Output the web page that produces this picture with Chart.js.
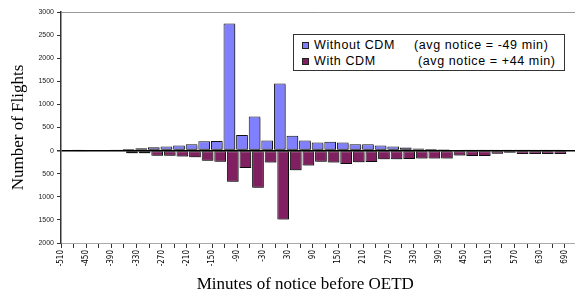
<!DOCTYPE html>
<html>
<head>
<meta charset="utf-8">
<script src="https://cdn.jsdelivr.net/npm/chart.js@4/dist/chart.umd.min.js"></script>
<style>
  body { margin: 0; background: #fff; }
  #wrap { position: relative; width: 575px; height: 298px; }
  .legend { position: absolute; left: 293px; top: 34px; width: 270px; height: 35px;
            border: 1px solid #333; background: #fff; color: #000;
            font: 12.5px "Liberation Sans", Arial, sans-serif; letter-spacing: 0.6px; }
  .row { position: absolute; left: 0; right: 0; height: 16px; line-height: 16px; white-space: nowrap; }
  .mark { position: absolute; left: 8px; top: 5px; width: 5px; height: 5px; border: 1px solid #222; }
  .name { position: absolute; left: 20px; }
  .avg { position: absolute; }
</style>
</head>
<body>
<div id="wrap">
  <canvas id="myChart" width="575" height="298"></canvas>
  <div class="legend">
    <div class="row" style="top:2px">
      <span class="mark" style="background:#8080ff"></span>
      <span class="name">Without CDM</span>
      <span class="avg" style="left:120px">(avg notice = -49 min)</span>
    </div>
    <div class="row" style="top:18px">
      <span class="mark" style="background:#802060"></span>
      <span class="name">With CDM</span>
      <span class="avg" style="left:124px">(avg notice = +44 min)</span>
    </div>
  </div>
</div>
<script>
// start of each 30-minute bin
let binStart = [-510, -480, -450, -420, -390, -360, -330, -300, -270, -240,
                -210, -180, -150, -120, -90, -60, -30, 0, 30, 60,
                90, 120, 150, 180, 210, 240, 270, 300, 330, 360,
                390, 420, 450, 480, 510, 540, 570, 600, 630, 660];
let withoutCdm = [0, 5, 20, 20, 10, 35, 50, 75, 90, 110,
                  140, 200, 210, 2750, 340, 740, 220, 1450, 320, 220,
                  175, 190, 175, 140, 140, 110, 88, 66, 45, 35,
                  30, 20, 10, 10, 5, 5, 5, 10, 10, 25];
// drawn below the axis
let withCdm = [0, -5, -15, -15, -15, -60, -60, -110, -110, -130,
               -145, -220, -240, -675, -375, -805, -255, -1490, -425, -320,
               -240, -255, -290, -250, -245, -185, -188, -183, -170, -170,
               -170, -108, -117, -117, -70, -45, -73, -73, -73, -73];
let tickLabels = [-510, -450, -390, -330, -270, -210, -150, -90, -30, 30,
                  90, 150, 210, 270, 330, 390, 450, 510, 570, 630, 690];

let BIN = 30;
let XMIN = -510, XMAX = 714;
let SHIFT = 4; // the two series sit slightly apart inside a bin

function points(vals){
    return binStart.map((m, i) => ({x: m + BIN / 2, y: vals[i]}));
}

// excel style drop shadow on the bars
let shadow = {
    id: 'shadow',
    beforeDatasetsDraw(c){
        let g = c.ctx;
        g.save();
        g.shadowColor = 'rgba(0,0,0,0.35)';
        g.shadowOffsetX = 1.5;
        g.shadowOffsetY = 1.5;
        g.shadowBlur = 0;
    },
    afterDatasetsDraw(c){ c.ctx.restore(); }
};

let sans = 'Liberation Sans, Arial, sans-serif';
let narrow = 'Liberation Sans Narrow, DejaVu Sans Condensed, Liberation Sans, sans-serif';
let serif = 'Liberation Serif, Times New Roman, serif';

let ctx = document.getElementById('myChart').getContext('2d');
let chart = new Chart(ctx, {
    type: 'bar',
    data: {
        datasets: [
        {
            label: 'Without CDM',
            data: points(withoutCdm),
            xAxisID: 'xBlue',
            backgroundColor: '#8080ff',
            borderColor: '#111',
            borderWidth: 1,
            borderSkipped: false,
            grouped: false,
            categoryPercentage: 1,
            barPercentage: 0.93
        },
        {
            label: 'With CDM',
            data: points(withCdm),
            xAxisID: 'xPurple',
            backgroundColor: '#802060',
            borderColor: '#111',
            borderWidth: 1,
            borderSkipped: false,
            grouped: false,
            categoryPercentage: 1,
            barPercentage: 0.93
        }]
    },
    options: {
        responsive: false,
        animation: false,
        layout: { padding: { top: 12, right: 0, bottom: 0, left: 0 } },
        plugins: { legend: { display: false }, tooltip: { enabled: false } },
        scales: {
            x: {
                type: 'linear', position: 'bottom', min: XMIN, max: XMAX, offset: false,
                ticks: {
                    stepSize: BIN, autoSkip: false, includeBounds: false,
                    minRotation: 90, maxRotation: 90, padding: 2,
                    color: '#000', font: { family: narrow, size: 8 },
                    callback: v => tickLabels.includes(v) ? String(v) : ''
                },
                grid: { offset: false, drawOnChartArea: false, tickLength: 5, tickColor: '#333', tickWidth: 1 },
                border: { color: '#aaa', width: 1 },
                title: {
                    display: true, text: 'Minutes of notice before OETD      ', color: '#000',
                    font: { family: serif, size: 17 }, padding: { top: 0, bottom: 3 }
                },
                afterFit: s => { s.height = 55; s.paddingLeft = 0; s.paddingRight = 0; }
            },
            xBlue: { type: 'linear', display: false, offset: false, min: XMIN + SHIFT, max: XMAX + SHIFT },
            xPurple: { type: 'linear', display: false, offset: false, min: XMIN - SHIFT, max: XMAX - SHIFT },
            y: {
                min: -2000, max: 3000,
                ticks: {
                    stepSize: 500, padding: 3, color: '#222',
                    font: { family: sans, size: 7 },
                    callback: v => String(Math.abs(v))
                },
                grid: {
                    color: c => c.tick.value === 0 ? '#000' : (c.tick.value === 3000 ? '#999' : 'rgba(0,0,0,0)'),
                    lineWidth: c => c.tick.value === 0 ? 1.5 : 1,
                    tickColor: '#333', tickLength: 4
                },
                border: { color: '#333', width: 1.5 },
                title: {
                    display: true, text: 'Number of Flights', color: '#000',
                    font: { family: serif, size: 17 }, padding: { top: 8, bottom: 0 }
                },
                afterFit: s => { s.width = 61; }
            }
        }
    },
    plugins: [shadow]
});
</script>
</body>
</html>
